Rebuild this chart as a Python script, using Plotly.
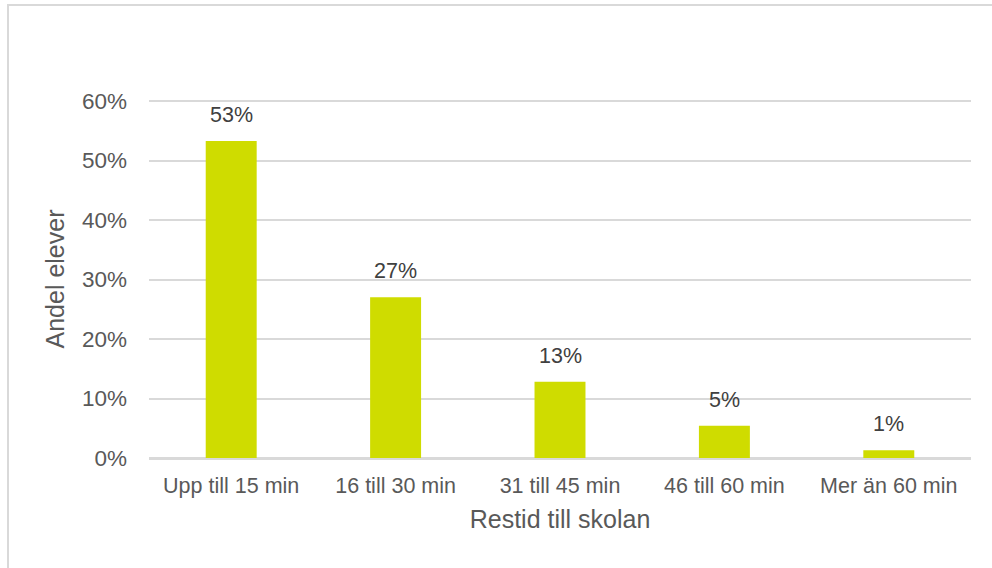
import plotly.graph_objects as go

# Restid till skolan – andel elever per tidsintervall
categories = ["Upp till 15 min", "16 till 30 min", "31 till 45 min", "46 till 60 min", "Mer än 60 min"]
shares = [0.533, 0.270, 0.128, 0.054, 0.013]
y_ticks = [0, 0.1, 0.2, 0.3, 0.4, 0.5, 0.6]

W, H = 992, 568
L, R, T, B = 149, 21, 100, 110
plot_w = W - L - R
plot_h = H - T - B

GRID = "#d9d9d9"
TXT = "#595959"
FONT = "Liberation Sans, Arial, sans-serif"

fig = go.Figure()
fig.add_trace(go.Bar(
    x=categories,
    y=shares,
    marker=dict(color="#cfdc00", line=dict(width=0)),
    hoverinfo="skip",
))

# value labels above each bar
for c, v in zip(categories, shares):
    fig.add_annotation(
        x=c, y=v, xref="x", yref="y",
        text=f"{v:.0%}", showarrow=False,
        yanchor="bottom", yshift=12,
        font=dict(family=FONT, size=21.5, color="#404040"),
    )

# light outer frame of the chart area
def px_x(p):
    return (p - L) / plot_w

def px_y(p):
    return (H - B - p) / plot_h

fig.add_shape(
    type="rect", xref="paper", yref="paper",
    x0=px_x(8), x1=px_x(W + 10), y0=px_y(H + 10), y1=px_y(5),
    line=dict(color=GRID, width=2), fillcolor="rgba(0,0,0,0)", layer="below",
)

fig.update_layout(
    width=W, height=H,
    margin=dict(l=L, r=R, t=T, b=B),
    paper_bgcolor="white", plot_bgcolor="white",
    bargap=0.69,
    showlegend=False,
    font=dict(family=FONT, color=TXT),
)
fig.update_xaxes(
    showgrid=False, showline=True, linecolor=GRID, linewidth=2,
    ticks="", tickfont=dict(size=21.5, color=TXT, family=FONT),
    ticklabelstandoff=7,
    title=dict(text="Restid till skolan", font=dict(size=25, color=TXT, family=FONT), standoff=14),
)
fig.update_yaxes(
    range=[0, 0.6017], tickvals=y_ticks, tickformat=".0%",
    showgrid=True, gridcolor=GRID, gridwidth=1.5,
    zeroline=True, zerolinecolor=GRID, zerolinewidth=2,
    showline=False, ticks="",
    tickfont=dict(size=22.5, color=TXT, family=FONT),
    ticklabelstandoff=21,
    title=dict(text="Andel elever", font=dict(size=25, color=TXT, family=FONT), standoff=10),
)

fig.write_html("out.html")
